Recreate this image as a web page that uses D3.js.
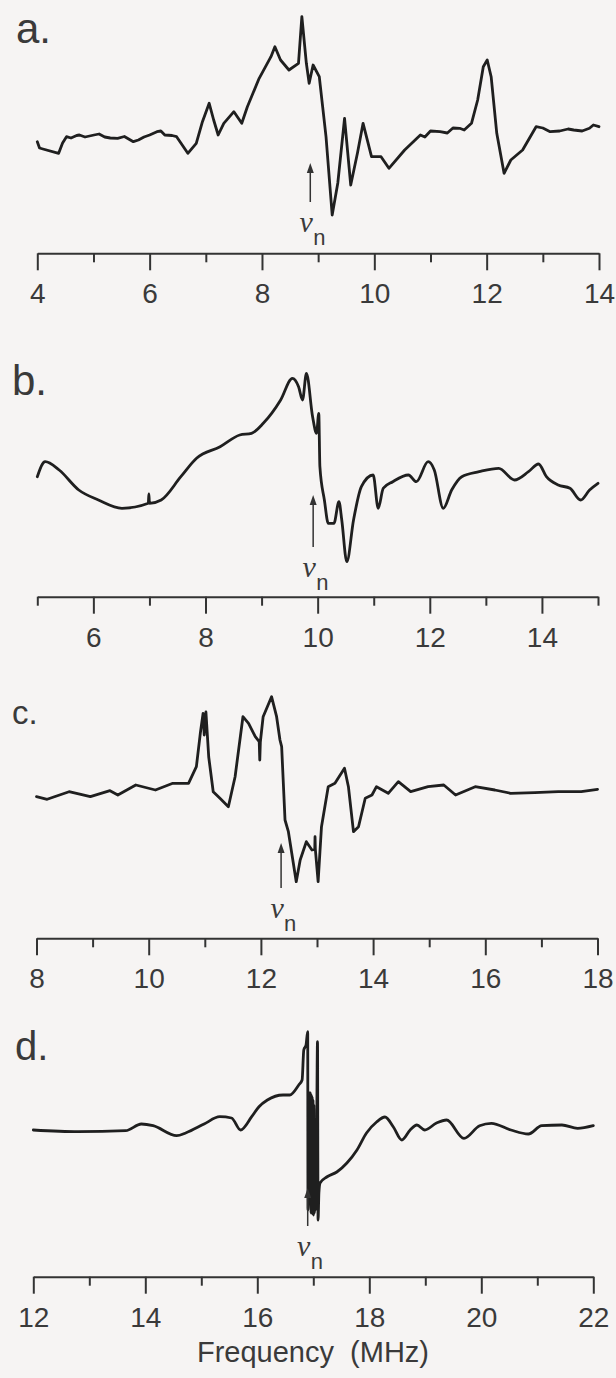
<!DOCTYPE html>
<html>
<head>
<meta charset="utf-8">
<script src="https://cdn.jsdelivr.net/npm/d3@7"></script>
<style>
  html, body { margin: 0; padding: 0; background: #f6f4f3; }
  svg { display: block; }
</style>
</head>
<body>
<svg id="chart" width="616" height="1378"></svg>
<script>
// ---- Spectra (frequency in MHz, signal in arbitrary units) ----
const aFreq = [4.0, 4.04, 4.1, 4.38, 4.45, 4.52, 4.6, 4.7, 4.75, 4.85, 5.01, 5.1, 5.2, 5.3, 5.43, 5.55, 5.71, 5.8, 5.9, 6.0, 6.13, 6.2, 6.27, 6.4, 6.48, 6.68, 6.83, 6.94, 7.06, 7.14, 7.22, 7.32, 7.5, 7.64, 7.74, 7.95, 8.16, 8.23, 8.33, 8.48, 8.65, 8.71, 8.79, 8.84, 8.91, 9.02, 9.08, 9.14, 9.25, 9.35, 9.47, 9.58, 9.7, 9.8, 9.95, 10.12, 10.26, 10.54, 10.82, 10.9, 11.0, 11.17, 11.3, 11.4, 11.52, 11.6, 11.73, 11.84, 11.94, 12.01, 12.08, 12.18, 12.31, 12.43, 12.64, 12.88, 13.0, 13.13, 13.3, 13.45, 13.55, 13.7, 13.83, 13.9, 14.0];
const aSignal = [-0.17, -0.8, -0.9, -1.33, -0.3, 0.33, 0.2, 0.45, 0.5, 0.3, 0.5, 0.6, 0.3, 0.2, 0.17, 0.35, -0.17, 0.0, 0.3, 0.5, 0.83, 0.9, 0.5, 0.45, 0.33, -1.33, -0.33, 1.83, 3.67, 2.0, 0.5, 1.67, 2.83, 1.67, 3.33, 6.17, 8.33, 9.33, 8.0, 7.0, 7.67, 12.33, 7.67, 5.67, 7.5, 6.33, 3.33, 0.33, -7.5, -4.3, 2.17, -4.5, -1.3, 1.67, -1.67, -1.67, -2.83, -1.0, 0.5, 0.3, 0.9, 0.83, 0.7, 1.2, 1.17, 1.0, 1.67, 4.0, 7.33, 8.0, 6.33, 0.67, -3.33, -2.0, -1.0, 1.33, 1.2, 0.83, 0.9, 1.1, 1.0, 0.9, 1.17, 1.5, 1.33];

const bFreq = [5.0, 5.14, 5.39, 5.74, 6.09, 6.51, 6.98, 6.99, 7.0, 7.21, 7.56, 7.84, 8.26, 8.61, 8.82, 9.03, 9.34, 9.55, 9.66, 9.73, 9.8, 9.91, 9.98, 10.02, 10.04, 10.12, 10.19, 10.29, 10.38, 10.43, 10.52, 10.64, 10.78, 10.99, 11.08, 11.17, 11.34, 11.62, 11.76, 11.97, 12.08, 12.24, 12.39, 12.57, 12.88, 13.23, 13.51, 13.76, 13.94, 14.08, 14.29, 14.5, 14.69, 14.85, 15.0];
const bSignal = [0.33, 1.83, 1.0, -1.0, -2.0, -2.83, -2.33, -1.4, -2.33, -2.0, 0.33, 2.17, 3.33, 4.5, 4.67, 5.67, 8.0, 10.17, 9.33, 8.0, 10.67, 6.33, 4.67, 6.67, 1.33, -2.0, -4.33, -4.33, -2.17, -4.0, -8.17, -4.0, -0.67, 0.5, -2.83, -0.83, -0.17, 0.5, -0.17, 1.83, 1.0, -2.83, -1.0, 0.33, 0.83, 1.17, 0.0, 0.83, 1.6, 0.33, -0.5, -0.83, -2.0, -1.0, -0.33];

const cFreq = [8.0, 8.19, 8.58, 8.96, 9.31, 9.45, 9.77, 10.12, 10.43, 10.71, 10.85, 10.92, 10.97, 10.99, 11.02, 11.07, 11.15, 11.27, 11.42, 11.54, 11.68, 11.78, 11.9, 11.97, 11.98, 11.99, 12.04, 12.19, 12.28, 12.34, 12.37, 12.43, 12.49, 12.63, 12.7, 12.81, 12.91, 12.96, 12.965, 12.97, 13.02, 13.08, 13.2, 13.32, 13.49, 13.56, 13.65, 13.74, 13.86, 13.98, 14.06, 14.27, 14.45, 14.67, 14.98, 15.26, 15.47, 15.82, 16.17, 16.45, 16.88, 17.3, 17.71, 18.0];
const cSignal = [-0.67, -0.93, -0.17, -0.67, -0.07, -0.5, 0.5, 0.0, 0.67, 0.67, 2.33, 5.67, 7.67, 5.5, 7.8, 3.3, -0.17, -0.83, -1.67, 1.33, 7.33, 6.67, 5.33, 4.83, 3.0, 4.8, 7.33, 9.33, 7.33, 5.0, 4.33, -3.0, -4.17, -9.17, -7.0, -5.17, -6.0, -5.93, -4.67, -5.9, -9.17, -3.67, 0.33, 0.67, 2.17, 0.33, -4.17, -3.67, -0.83, -0.5, 0.33, -0.33, 0.83, -0.17, 0.33, 0.5, -0.5, 0.33, 0.0, -0.33, -0.27, -0.17, -0.17, 0.07];

const dFreq = [12.0, 12.8, 13.65, 13.93, 14.14, 14.56, 14.73, 15.05, 15.33, 15.54, 15.7, 15.9, 16.03, 16.18, 16.46, 16.58, 16.74, 16.8, 16.83, 16.87, 16.9, 16.905, 16.93, 16.95, 16.96, 16.965, 16.975, 16.98, 16.99, 16.995, 17.005, 17.01, 17.02, 17.025, 17.035, 17.05, 17.075, 17.085, 17.1, 17.12, 17.24, 17.42, 17.6, 17.78, 17.95, 18.13, 18.28, 18.43, 18.58, 18.73, 18.85, 18.99, 19.2, 19.38, 19.69, 19.97, 20.18, 20.53, 20.84, 21.08, 21.44, 21.72, 22.0];
const dSignal = [0.0, -0.17, -0.07, 0.6, 0.43, -0.57, -0.27, 0.6, 1.33, 1.2, 0.0, 1.33, 2.33, 3.0, 3.5, 3.5, 4.5, 5.0, 8.0, 8.5, 9.83, -8.0, 3.7, 3.7, -8.3, 3.5, -8.3, 3.3, -8.4, 3.0, -8.5, 2.5, -8.3, 1.0, -8.0, -7.5, 8.83, -9.0, -6.3, -5.3, -4.7, -4.2, -3.3, -2.0, -0.3, 0.8, 1.3, 0.3, -1.0, 0.0, 0.5, 0.0, 0.7, 1.0, -0.83, 0.43, 0.67, 0.0, -0.4, 0.43, 0.5, 0.17, 0.43];

// Frequency ranges and resonance markers
const freqDomains = [[4, 14], [5, 15], [8, 18], [12, 22]];
const resonanceFreq = [8.86, 9.92, 12.36, 16.9];
const panelLabels = ["a.", "b.", "c.", "d."];
const axisTitle = "Frequency\u00a0\u00a0(MHz)";

// ---- Layout ----
const layout = [
  { x0: 37.3, x1: 599.0, axisY: 253.3, baseY: 140, lx: 16, ly: 43, ls: 42, arrowTop: 163, arrowBottom: 202, curve: d3.curveLinear },
  { x0: 37.3, x1: 598.0, axisY: 596.7, baseY: 480, lx: 12, ly: 395, ls: 42, arrowTop: 495, arrowBottom: 547, curve: d3.curveMonotoneX },
  { x0: 36.5, x1: 597.5, axisY: 938.3, baseY: 790, lx: 12, ly: 724, ls: 33, arrowTop: 843, arrowBottom: 888, curve: d3.curveLinear },
  { x0: 33.3, x1: 593.3, axisY: 1276.7, baseY: 1130, lx: 15, ly: 1060, ls: 40, arrowTop: 1188, arrowBottom: 1226, curve: d3.curveMonotoneX }
];

const series = [
  [aFreq, aSignal],
  [bFreq, bSignal],
  [cFreq, cSignal],
  [dFreq, dSignal]
];

const ink = "#1f1f1f";
const textInk = "#3a3a3a";
const svg = d3.select("#chart");

series.forEach(([freq, sig], i) => {
  const L = layout[i];
  const dom = freqDomains[i];
  const x = d3.scaleLinear().domain(dom).range([L.x0, L.x1]);
  const y = d3.scaleLinear().domain([-10, 10]).range([L.baseY + 100, L.baseY - 100]);
  const g = svg.append("g");

  // panel letter
  g.append("text")
    .attr("x", L.lx).attr("y", L.ly)
    .attr("font-family", "Liberation Sans, Arial, sans-serif")
    .attr("font-size", L.ls)
    .attr("fill", textInk)
    .text(panelLabels[i]);

  // spectrum trace
  const pts = freq.map((f, k) => [f, sig[k]]);
  g.append("path")
    .datum(pts)
    .attr("fill", "none")
    .attr("stroke", ink)
    .attr("stroke-width", 2.8)
    .attr("stroke-linejoin", "round")
    .attr("stroke-linecap", "round")
    .attr("d", d3.line().curve(L.curve).x(d => x(d[0])).y(d => y(d[1])));

  // frequency axis, a tick every 1 MHz, labels on even values
  const ticks = d3.range(dom[0], dom[1] + 1);
  const axis = d3.axisBottom(x)
    .tickValues(ticks)
    .tickSize(17)
    .tickSizeOuter(0)
    .tickFormat(d => (d % 2 === 0 ? d : ""));
  const ag = g.append("g")
    .attr("transform", `translate(0,${L.axisY})`)
    .call(axis);
  ag.select(".domain").attr("stroke", "#333").attr("stroke-width", 2);
  ag.selectAll(".tick line")
    .attr("stroke", "#333")
    .attr("stroke-width", 2)
    .attr("y2", d => (d % 2 === 0 ? 17 : 9));
  ag.selectAll(".tick text")
    .attr("y", 30)
    .attr("dy", "0.71em")
    .attr("font-family", "Liberation Sans, Arial, sans-serif")
    .attr("font-size", 28)
    .attr("fill", textInk);

  // resonance marker arrow with nu_n label
  const ax = x(resonanceFreq[i]);
  g.append("line")
    .attr("x1", ax).attr("x2", ax)
    .attr("y1", L.arrowTop + 6).attr("y2", L.arrowBottom)
    .attr("stroke", "#333").attr("stroke-width", 1.5);
  g.append("path")
    .attr("d", `M${ax},${L.arrowTop} L${ax - 3.5},${L.arrowTop + 10} L${ax + 3.5},${L.arrowTop + 10} Z`)
    .attr("fill", "#333");
  g.append("text")
    .attr("x", ax - 4).attr("y", L.arrowBottom + 30)
    .attr("text-anchor", "middle")
    .attr("font-family", "Liberation Serif, Times New Roman, serif")
    .attr("font-style", "italic")
    .attr("font-size", 30)
    .attr("fill", textInk)
    .text("\u03bd");
  g.append("text")
    .attr("x", ax + 3).attr("y", L.arrowBottom + 43)
    .attr("font-family", "Liberation Sans, Arial, sans-serif")
    .attr("font-size", 22)
    .attr("fill", textInk)
    .text("n");
});

// shared axis title
svg.append("text")
  .attr("x", 313).attr("y", 1362)
  .attr("text-anchor", "middle")
  .attr("font-family", "Liberation Sans, Arial, sans-serif")
  .attr("font-size", 29)
  .attr("fill", textInk)
  .text(axisTitle);
</script>
</body>
</html>
